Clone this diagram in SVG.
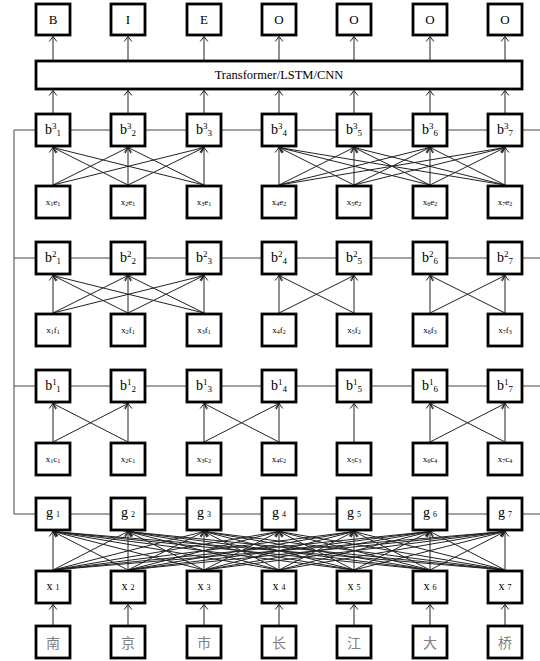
<svg xmlns="http://www.w3.org/2000/svg" width="540" height="661" viewBox="0 0 540 661">
<style>
.box{fill:#fff;stroke:#000;stroke-width:2.8}
.c{stroke:#222;stroke-width:1;fill:none}
.a{stroke:#222;stroke-width:1;fill:none;marker-end:url(#ah)}
.h{stroke:#444;stroke-width:1;fill:none}
text{font-family:"Liberation Serif","Times New Roman",serif;fill:#000;text-anchor:middle}
.top{font-size:13px}
.b{font-size:14px}
.sm{font-size:9px}
.cj{font-family:"Noto Sans CJK SC",sans-serif;font-size:14px;fill:#808080}
</style>
<defs>
<marker id="ah" viewBox="-6 -5 7 10" refX="0" refY="0" markerWidth="7" markerHeight="10" markerUnits="userSpaceOnUse" orient="auto">
<path d="M-5,-3.8 L0,0 L-5,3.8" fill="none" stroke="#222" stroke-width="1"/>
</marker>
</defs>
<g id="connectors">
<path class="h" d="M14,130 H540 M14,258 H540 M14,386 H540 M14,514 H540 M14,130 V514"/>
<!-- transformer to outputs -->
<line class="a" x1="53" y1="60" x2="53" y2="36.5"/>
<line class="a" x1="128" y1="60" x2="128" y2="36.5"/>
<line class="a" x1="204" y1="60" x2="204" y2="36.5"/>
<line class="a" x1="279" y1="60" x2="279" y2="36.5"/>
<line class="a" x1="354" y1="60" x2="354" y2="36.5"/>
<line class="a" x1="430" y1="60" x2="430" y2="36.5"/>
<line class="a" x1="505" y1="60" x2="505" y2="36.5"/>
<!-- b3 to transformer -->
<line class="a" x1="53" y1="113" x2="53" y2="90.5"/>
<line class="a" x1="128" y1="113" x2="128" y2="90.5"/>
<line class="a" x1="204" y1="113" x2="204" y2="90.5"/>
<line class="a" x1="279" y1="113" x2="279" y2="90.5"/>
<line class="a" x1="354" y1="113" x2="354" y2="90.5"/>
<line class="a" x1="430" y1="113" x2="430" y2="90.5"/>
<line class="a" x1="505" y1="113" x2="505" y2="90.5"/>
<!-- xe to b3 -->
<line class="a" x1="53" y1="185" x2="53" y2="147.5"/>
<line class="a" x1="53" y1="185" x2="128" y2="147.5"/>
<line class="a" x1="53" y1="185" x2="204" y2="147.5"/>
<line class="a" x1="128" y1="185" x2="53" y2="147.5"/>
<line class="a" x1="128" y1="185" x2="128" y2="147.5"/>
<line class="a" x1="128" y1="185" x2="204" y2="147.5"/>
<line class="a" x1="204" y1="185" x2="53" y2="147.5"/>
<line class="a" x1="204" y1="185" x2="128" y2="147.5"/>
<line class="a" x1="204" y1="185" x2="204" y2="147.5"/>
<line class="a" x1="279" y1="185" x2="279" y2="147.5"/>
<line class="a" x1="279" y1="185" x2="354" y2="147.5"/>
<line class="a" x1="279" y1="185" x2="430" y2="147.5"/>
<line class="a" x1="279" y1="185" x2="505" y2="147.5"/>
<line class="a" x1="354" y1="185" x2="279" y2="147.5"/>
<line class="a" x1="354" y1="185" x2="354" y2="147.5"/>
<line class="a" x1="354" y1="185" x2="430" y2="147.5"/>
<line class="a" x1="354" y1="185" x2="505" y2="147.5"/>
<line class="a" x1="430" y1="185" x2="279" y2="147.5"/>
<line class="a" x1="430" y1="185" x2="354" y2="147.5"/>
<line class="a" x1="430" y1="185" x2="430" y2="147.5"/>
<line class="a" x1="430" y1="185" x2="505" y2="147.5"/>
<line class="a" x1="505" y1="185" x2="279" y2="147.5"/>
<line class="a" x1="505" y1="185" x2="354" y2="147.5"/>
<line class="a" x1="505" y1="185" x2="430" y2="147.5"/>
<line class="a" x1="505" y1="185" x2="505" y2="147.5"/>
<!-- xf to b2 -->
<line class="a" x1="53" y1="313" x2="53" y2="275.5"/>
<line class="a" x1="53" y1="313" x2="128" y2="275.5"/>
<line class="a" x1="53" y1="313" x2="204" y2="275.5"/>
<line class="a" x1="128" y1="313" x2="53" y2="275.5"/>
<line class="a" x1="128" y1="313" x2="128" y2="275.5"/>
<line class="a" x1="128" y1="313" x2="204" y2="275.5"/>
<line class="a" x1="204" y1="313" x2="53" y2="275.5"/>
<line class="a" x1="204" y1="313" x2="128" y2="275.5"/>
<line class="a" x1="204" y1="313" x2="204" y2="275.5"/>
<line class="a" x1="279" y1="313" x2="279" y2="275.5"/>
<line class="a" x1="279" y1="313" x2="354" y2="275.5"/>
<line class="a" x1="354" y1="313" x2="279" y2="275.5"/>
<line class="a" x1="354" y1="313" x2="354" y2="275.5"/>
<line class="a" x1="430" y1="313" x2="430" y2="275.5"/>
<line class="a" x1="430" y1="313" x2="505" y2="275.5"/>
<line class="a" x1="505" y1="313" x2="430" y2="275.5"/>
<line class="a" x1="505" y1="313" x2="505" y2="275.5"/>
<!-- xc to b1 -->
<line class="a" x1="53" y1="442" x2="53" y2="403.5"/>
<line class="a" x1="53" y1="442" x2="128" y2="403.5"/>
<line class="a" x1="128" y1="442" x2="53" y2="403.5"/>
<line class="a" x1="128" y1="442" x2="128" y2="403.5"/>
<line class="a" x1="204" y1="442" x2="204" y2="403.5"/>
<line class="a" x1="204" y1="442" x2="279" y2="403.5"/>
<line class="a" x1="279" y1="442" x2="204" y2="403.5"/>
<line class="a" x1="279" y1="442" x2="279" y2="403.5"/>
<line class="a" x1="354" y1="442" x2="354" y2="403.5"/>
<line class="a" x1="430" y1="442" x2="430" y2="403.5"/>
<line class="a" x1="430" y1="442" x2="505" y2="403.5"/>
<line class="a" x1="505" y1="442" x2="430" y2="403.5"/>
<line class="a" x1="505" y1="442" x2="505" y2="403.5"/>
<!-- x to g (full) -->
<line class="a" x1="53" y1="570" x2="53" y2="531.5"/>
<line class="a" x1="53" y1="570" x2="128" y2="531.5"/>
<line class="a" x1="53" y1="570" x2="204" y2="531.5"/>
<line class="a" x1="53" y1="570" x2="279" y2="531.5"/>
<line class="a" x1="53" y1="570" x2="354" y2="531.5"/>
<line class="a" x1="53" y1="570" x2="430" y2="531.5"/>
<line class="a" x1="53" y1="570" x2="505" y2="531.5"/>
<line class="a" x1="128" y1="570" x2="53" y2="531.5"/>
<line class="a" x1="128" y1="570" x2="128" y2="531.5"/>
<line class="a" x1="128" y1="570" x2="204" y2="531.5"/>
<line class="a" x1="128" y1="570" x2="279" y2="531.5"/>
<line class="a" x1="128" y1="570" x2="354" y2="531.5"/>
<line class="a" x1="128" y1="570" x2="430" y2="531.5"/>
<line class="a" x1="128" y1="570" x2="505" y2="531.5"/>
<line class="a" x1="204" y1="570" x2="53" y2="531.5"/>
<line class="a" x1="204" y1="570" x2="128" y2="531.5"/>
<line class="a" x1="204" y1="570" x2="204" y2="531.5"/>
<line class="a" x1="204" y1="570" x2="279" y2="531.5"/>
<line class="a" x1="204" y1="570" x2="354" y2="531.5"/>
<line class="a" x1="204" y1="570" x2="430" y2="531.5"/>
<line class="a" x1="204" y1="570" x2="505" y2="531.5"/>
<line class="a" x1="279" y1="570" x2="53" y2="531.5"/>
<line class="a" x1="279" y1="570" x2="128" y2="531.5"/>
<line class="a" x1="279" y1="570" x2="204" y2="531.5"/>
<line class="a" x1="279" y1="570" x2="279" y2="531.5"/>
<line class="a" x1="279" y1="570" x2="354" y2="531.5"/>
<line class="a" x1="279" y1="570" x2="430" y2="531.5"/>
<line class="a" x1="279" y1="570" x2="505" y2="531.5"/>
<line class="a" x1="354" y1="570" x2="53" y2="531.5"/>
<line class="a" x1="354" y1="570" x2="128" y2="531.5"/>
<line class="a" x1="354" y1="570" x2="204" y2="531.5"/>
<line class="a" x1="354" y1="570" x2="279" y2="531.5"/>
<line class="a" x1="354" y1="570" x2="354" y2="531.5"/>
<line class="a" x1="354" y1="570" x2="430" y2="531.5"/>
<line class="a" x1="354" y1="570" x2="505" y2="531.5"/>
<line class="a" x1="430" y1="570" x2="53" y2="531.5"/>
<line class="a" x1="430" y1="570" x2="128" y2="531.5"/>
<line class="a" x1="430" y1="570" x2="204" y2="531.5"/>
<line class="a" x1="430" y1="570" x2="279" y2="531.5"/>
<line class="a" x1="430" y1="570" x2="354" y2="531.5"/>
<line class="a" x1="430" y1="570" x2="430" y2="531.5"/>
<line class="a" x1="430" y1="570" x2="505" y2="531.5"/>
<line class="a" x1="505" y1="570" x2="53" y2="531.5"/>
<line class="a" x1="505" y1="570" x2="128" y2="531.5"/>
<line class="a" x1="505" y1="570" x2="204" y2="531.5"/>
<line class="a" x1="505" y1="570" x2="279" y2="531.5"/>
<line class="a" x1="505" y1="570" x2="354" y2="531.5"/>
<line class="a" x1="505" y1="570" x2="430" y2="531.5"/>
<line class="a" x1="505" y1="570" x2="505" y2="531.5"/>
<!-- chars to x -->
<line class="a" x1="53" y1="625" x2="53" y2="604.5"/>
<line class="a" x1="128" y1="625" x2="128" y2="604.5"/>
<line class="a" x1="204" y1="625" x2="204" y2="604.5"/>
<line class="a" x1="279" y1="625" x2="279" y2="604.5"/>
<line class="a" x1="354" y1="625" x2="354" y2="604.5"/>
<line class="a" x1="430" y1="625" x2="430" y2="604.5"/>
<line class="a" x1="505" y1="625" x2="505" y2="604.5"/>
</g>
<!-- output row -->
<g id="out1"><rect class="box" x="36" y="4" width="34" height="31"/><text class="top" x="53" y="24.3">B</text></g>
<g id="out2"><rect class="box" x="111" y="4" width="34" height="31"/><text class="top" x="128" y="24.3">I</text></g>
<g id="out3"><rect class="box" x="187" y="4" width="34" height="31"/><text class="top" x="204" y="24.3">E</text></g>
<g id="out4"><rect class="box" x="262" y="4" width="34" height="31"/><text class="top" x="279" y="24.3">O</text></g>
<g id="out5"><rect class="box" x="337" y="4" width="34" height="31"/><text class="top" x="354" y="24.3">O</text></g>
<g id="out6"><rect class="box" x="413" y="4" width="34" height="31"/><text class="top" x="430" y="24.3">O</text></g>
<g id="out7"><rect class="box" x="488" y="4" width="34" height="31"/><text class="top" x="505" y="24.3">O</text></g>
<g id="encoder"><rect class="box" x="36" y="61" width="486" height="28"/><text x="279" y="78.5" style="font-size:12.5px">Transformer/LSTM/CNN</text></g>
<!-- b3 row -->
<g id="b3_1"><rect class="box" x="36" y="114" width="34" height="32"/><text class="b" x="53" y="134">b<tspan class="sm" dy="-5">3</tspan><tspan class="sm" dy="7">1</tspan></text></g>
<g id="b3_2"><rect class="box" x="111" y="114" width="34" height="32"/><text class="b" x="128" y="134">b<tspan class="sm" dy="-5">3</tspan><tspan class="sm" dy="7">2</tspan></text></g>
<g id="b3_3"><rect class="box" x="187" y="114" width="34" height="32"/><text class="b" x="204" y="134">b<tspan class="sm" dy="-5">3</tspan><tspan class="sm" dy="7">3</tspan></text></g>
<g id="b3_4"><rect class="box" x="262" y="114" width="34" height="32"/><text class="b" x="279" y="134">b<tspan class="sm" dy="-5">3</tspan><tspan class="sm" dy="7">4</tspan></text></g>
<g id="b3_5"><rect class="box" x="337" y="114" width="34" height="32"/><text class="b" x="354" y="134">b<tspan class="sm" dy="-5">3</tspan><tspan class="sm" dy="7">5</tspan></text></g>
<g id="b3_6"><rect class="box" x="413" y="114" width="34" height="32"/><text class="b" x="430" y="134">b<tspan class="sm" dy="-5">3</tspan><tspan class="sm" dy="7">6</tspan></text></g>
<g id="b3_7"><rect class="box" x="488" y="114" width="34" height="32"/><text class="b" x="505" y="134">b<tspan class="sm" dy="-5">3</tspan><tspan class="sm" dy="7">7</tspan></text></g>
<!-- xe row -->
<g id="xe_1"><rect class="box" x="36" y="186" width="34" height="32"/><text x="53" y="204.5" style="font-size:9px">x<tspan font-size="6" dy="1.5">1</tspan><tspan dy="-1.5">e</tspan><tspan font-size="6" dy="1.5">1</tspan></text></g>
<g id="xe_2"><rect class="box" x="111" y="186" width="34" height="32"/><text x="128" y="204.5" style="font-size:9px">x<tspan font-size="6" dy="1.5">2</tspan><tspan dy="-1.5">e</tspan><tspan font-size="6" dy="1.5">1</tspan></text></g>
<g id="xe_3"><rect class="box" x="187" y="186" width="34" height="32"/><text x="204" y="204.5" style="font-size:9px">x<tspan font-size="6" dy="1.5">3</tspan><tspan dy="-1.5">e</tspan><tspan font-size="6" dy="1.5">1</tspan></text></g>
<g id="xe_4"><rect class="box" x="262" y="186" width="34" height="32"/><text x="279" y="204.5" style="font-size:9px">x<tspan font-size="6" dy="1.5">4</tspan><tspan dy="-1.5">e</tspan><tspan font-size="6" dy="1.5">2</tspan></text></g>
<g id="xe_5"><rect class="box" x="337" y="186" width="34" height="32"/><text x="354" y="204.5" style="font-size:9px">x<tspan font-size="6" dy="1.5">5</tspan><tspan dy="-1.5">e</tspan><tspan font-size="6" dy="1.5">2</tspan></text></g>
<g id="xe_6"><rect class="box" x="413" y="186" width="34" height="32"/><text x="430" y="204.5" style="font-size:9px">x<tspan font-size="6" dy="1.5">6</tspan><tspan dy="-1.5">e</tspan><tspan font-size="6" dy="1.5">2</tspan></text></g>
<g id="xe_7"><rect class="box" x="488" y="186" width="34" height="32"/><text x="505" y="204.5" style="font-size:9px">x<tspan font-size="6" dy="1.5">7</tspan><tspan dy="-1.5">e</tspan><tspan font-size="6" dy="1.5">2</tspan></text></g>
<!-- b2 row -->
<g id="b2_1"><rect class="box" x="36" y="242" width="34" height="32"/><text class="b" x="53" y="262">b<tspan class="sm" dy="-5">2</tspan><tspan class="sm" dy="7">1</tspan></text></g>
<g id="b2_2"><rect class="box" x="111" y="242" width="34" height="32"/><text class="b" x="128" y="262">b<tspan class="sm" dy="-5">2</tspan><tspan class="sm" dy="7">2</tspan></text></g>
<g id="b2_3"><rect class="box" x="187" y="242" width="34" height="32"/><text class="b" x="204" y="262">b<tspan class="sm" dy="-5">2</tspan><tspan class="sm" dy="7">3</tspan></text></g>
<g id="b2_4"><rect class="box" x="262" y="242" width="34" height="32"/><text class="b" x="279" y="262">b<tspan class="sm" dy="-5">2</tspan><tspan class="sm" dy="7">4</tspan></text></g>
<g id="b2_5"><rect class="box" x="337" y="242" width="34" height="32"/><text class="b" x="354" y="262">b<tspan class="sm" dy="-5">2</tspan><tspan class="sm" dy="7">5</tspan></text></g>
<g id="b2_6"><rect class="box" x="413" y="242" width="34" height="32"/><text class="b" x="430" y="262">b<tspan class="sm" dy="-5">2</tspan><tspan class="sm" dy="7">6</tspan></text></g>
<g id="b2_7"><rect class="box" x="488" y="242" width="34" height="32"/><text class="b" x="505" y="262">b<tspan class="sm" dy="-5">2</tspan><tspan class="sm" dy="7">7</tspan></text></g>
<!-- xf row -->
<g id="xf_1"><rect class="box" x="36" y="314" width="34" height="32"/><text x="53" y="332.5" style="font-size:9px">x<tspan font-size="6" dy="1.5">1</tspan><tspan dy="-1.5">f</tspan><tspan font-size="6" dy="1.5">1</tspan></text></g>
<g id="xf_2"><rect class="box" x="111" y="314" width="34" height="32"/><text x="128" y="332.5" style="font-size:9px">x<tspan font-size="6" dy="1.5">2</tspan><tspan dy="-1.5">f</tspan><tspan font-size="6" dy="1.5">1</tspan></text></g>
<g id="xf_3"><rect class="box" x="187" y="314" width="34" height="32"/><text x="204" y="332.5" style="font-size:9px">x<tspan font-size="6" dy="1.5">3</tspan><tspan dy="-1.5">f</tspan><tspan font-size="6" dy="1.5">1</tspan></text></g>
<g id="xf_4"><rect class="box" x="262" y="314" width="34" height="32"/><text x="279" y="332.5" style="font-size:9px">x<tspan font-size="6" dy="1.5">4</tspan><tspan dy="-1.5">f</tspan><tspan font-size="6" dy="1.5">2</tspan></text></g>
<g id="xf_5"><rect class="box" x="337" y="314" width="34" height="32"/><text x="354" y="332.5" style="font-size:9px">x<tspan font-size="6" dy="1.5">5</tspan><tspan dy="-1.5">f</tspan><tspan font-size="6" dy="1.5">2</tspan></text></g>
<g id="xf_6"><rect class="box" x="413" y="314" width="34" height="32"/><text x="430" y="332.5" style="font-size:9px">x<tspan font-size="6" dy="1.5">6</tspan><tspan dy="-1.5">f</tspan><tspan font-size="6" dy="1.5">3</tspan></text></g>
<g id="xf_7"><rect class="box" x="488" y="314" width="34" height="32"/><text x="505" y="332.5" style="font-size:9px">x<tspan font-size="6" dy="1.5">7</tspan><tspan dy="-1.5">f</tspan><tspan font-size="6" dy="1.5">3</tspan></text></g>
<!-- b1 row -->
<g id="b1_1"><rect class="box" x="36" y="370" width="34" height="32"/><text class="b" x="53" y="390">b<tspan class="sm" dy="-5">1</tspan><tspan class="sm" dy="7">1</tspan></text></g>
<g id="b1_2"><rect class="box" x="111" y="370" width="34" height="32"/><text class="b" x="128" y="390">b<tspan class="sm" dy="-5">1</tspan><tspan class="sm" dy="7">2</tspan></text></g>
<g id="b1_3"><rect class="box" x="187" y="370" width="34" height="32"/><text class="b" x="204" y="390">b<tspan class="sm" dy="-5">1</tspan><tspan class="sm" dy="7">3</tspan></text></g>
<g id="b1_4"><rect class="box" x="262" y="370" width="34" height="32"/><text class="b" x="279" y="390">b<tspan class="sm" dy="-5">1</tspan><tspan class="sm" dy="7">4</tspan></text></g>
<g id="b1_5"><rect class="box" x="337" y="370" width="34" height="32"/><text class="b" x="354" y="390">b<tspan class="sm" dy="-5">1</tspan><tspan class="sm" dy="7">5</tspan></text></g>
<g id="b1_6"><rect class="box" x="413" y="370" width="34" height="32"/><text class="b" x="430" y="390">b<tspan class="sm" dy="-5">1</tspan><tspan class="sm" dy="7">6</tspan></text></g>
<g id="b1_7"><rect class="box" x="488" y="370" width="34" height="32"/><text class="b" x="505" y="390">b<tspan class="sm" dy="-5">1</tspan><tspan class="sm" dy="7">7</tspan></text></g>
<!-- xc row -->
<g id="xc_1"><rect class="box" x="36" y="443" width="34" height="32"/><text x="53" y="461.5" style="font-size:9px">x<tspan font-size="6" dy="1.5">1</tspan><tspan dy="-1.5">c</tspan><tspan font-size="6" dy="1.5">1</tspan></text></g>
<g id="xc_2"><rect class="box" x="111" y="443" width="34" height="32"/><text x="128" y="461.5" style="font-size:9px">x<tspan font-size="6" dy="1.5">2</tspan><tspan dy="-1.5">c</tspan><tspan font-size="6" dy="1.5">1</tspan></text></g>
<g id="xc_3"><rect class="box" x="187" y="443" width="34" height="32"/><text x="204" y="461.5" style="font-size:9px">x<tspan font-size="6" dy="1.5">3</tspan><tspan dy="-1.5">c</tspan><tspan font-size="6" dy="1.5">2</tspan></text></g>
<g id="xc_4"><rect class="box" x="262" y="443" width="34" height="32"/><text x="279" y="461.5" style="font-size:9px">x<tspan font-size="6" dy="1.5">4</tspan><tspan dy="-1.5">c</tspan><tspan font-size="6" dy="1.5">2</tspan></text></g>
<g id="xc_5"><rect class="box" x="337" y="443" width="34" height="32"/><text x="354" y="461.5" style="font-size:9px">x<tspan font-size="6" dy="1.5">5</tspan><tspan dy="-1.5">c</tspan><tspan font-size="6" dy="1.5">3</tspan></text></g>
<g id="xc_6"><rect class="box" x="413" y="443" width="34" height="32"/><text x="430" y="461.5" style="font-size:9px">x<tspan font-size="6" dy="1.5">6</tspan><tspan dy="-1.5">c</tspan><tspan font-size="6" dy="1.5">4</tspan></text></g>
<g id="xc_7"><rect class="box" x="488" y="443" width="34" height="32"/><text x="505" y="461.5" style="font-size:9px">x<tspan font-size="6" dy="1.5">7</tspan><tspan dy="-1.5">c</tspan><tspan font-size="6" dy="1.5">4</tspan></text></g>
<!-- g row -->
<g id="g_1"><rect class="box" x="36" y="498" width="34" height="32"/><text x="53" y="516.5" style="font-size:14px">g<tspan font-size="8" dx="3">1</tspan></text></g>
<g id="g_2"><rect class="box" x="111" y="498" width="34" height="32"/><text x="128" y="516.5" style="font-size:14px">g<tspan font-size="8" dx="3">2</tspan></text></g>
<g id="g_3"><rect class="box" x="187" y="498" width="34" height="32"/><text x="204" y="516.5" style="font-size:14px">g<tspan font-size="8" dx="3">3</tspan></text></g>
<g id="g_4"><rect class="box" x="262" y="498" width="34" height="32"/><text x="279" y="516.5" style="font-size:14px">g<tspan font-size="8" dx="3">4</tspan></text></g>
<g id="g_5"><rect class="box" x="337" y="498" width="34" height="32"/><text x="354" y="516.5" style="font-size:14px">g<tspan font-size="8" dx="3">5</tspan></text></g>
<g id="g_6"><rect class="box" x="413" y="498" width="34" height="32"/><text x="430" y="516.5" style="font-size:14px">g<tspan font-size="8" dx="3">6</tspan></text></g>
<g id="g_7"><rect class="box" x="488" y="498" width="34" height="32"/><text x="505" y="516.5" style="font-size:14px">g<tspan font-size="8" dx="3">7</tspan></text></g>
<!-- x row -->
<g id="x_1"><rect class="box" x="36" y="571" width="34" height="32"/><text x="53" y="590" style="font-size:12px">x<tspan font-size="8" dx="3">1</tspan></text></g>
<g id="x_2"><rect class="box" x="111" y="571" width="34" height="32"/><text x="128" y="590" style="font-size:12px">x<tspan font-size="8" dx="3">2</tspan></text></g>
<g id="x_3"><rect class="box" x="187" y="571" width="34" height="32"/><text x="204" y="590" style="font-size:12px">x<tspan font-size="8" dx="3">3</tspan></text></g>
<g id="x_4"><rect class="box" x="262" y="571" width="34" height="32"/><text x="279" y="590" style="font-size:12px">x<tspan font-size="8" dx="3">4</tspan></text></g>
<g id="x_5"><rect class="box" x="337" y="571" width="34" height="32"/><text x="354" y="590" style="font-size:12px">x<tspan font-size="8" dx="3">5</tspan></text></g>
<g id="x_6"><rect class="box" x="413" y="571" width="34" height="32"/><text x="430" y="590" style="font-size:12px">x<tspan font-size="8" dx="3">6</tspan></text></g>
<g id="x_7"><rect class="box" x="488" y="571" width="34" height="32"/><text x="505" y="590" style="font-size:12px">x<tspan font-size="8" dx="3">7</tspan></text></g>
<!-- characters -->
<g id="ch_1"><rect class="box" x="36" y="626" width="34" height="32"/><text class="cj" x="53" y="647.5">南</text></g>
<g id="ch_2"><rect class="box" x="111" y="626" width="34" height="32"/><text class="cj" x="128" y="647.5">京</text></g>
<g id="ch_3"><rect class="box" x="187" y="626" width="34" height="32"/><text class="cj" x="204" y="647.5">市</text></g>
<g id="ch_4"><rect class="box" x="262" y="626" width="34" height="32"/><text class="cj" x="279" y="647.5">长</text></g>
<g id="ch_5"><rect class="box" x="337" y="626" width="34" height="32"/><text class="cj" x="354" y="647.5">江</text></g>
<g id="ch_6"><rect class="box" x="413" y="626" width="34" height="32"/><text class="cj" x="430" y="647.5">大</text></g>
<g id="ch_7"><rect class="box" x="488" y="626" width="34" height="32"/><text class="cj" x="505" y="647.5">桥</text></g>
</svg>
